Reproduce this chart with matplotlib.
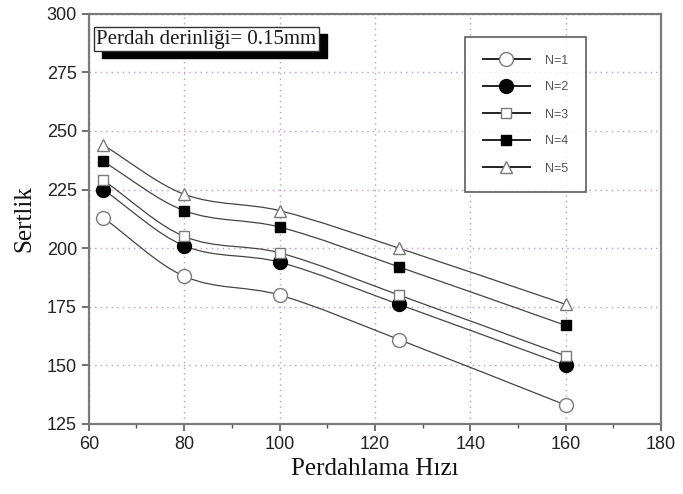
import matplotlib
matplotlib.use("Agg")
import matplotlib.pyplot as plt
import numpy as np
from matplotlib.path import Path
from matplotlib.patches import PathPatch, Rectangle
from matplotlib.lines import Line2D

# Perdahlama hizi (x) ve sertlik degerleri (N = paso sayisi)
hiz = [63, 80, 100, 125, 160]
sertlik_n1 = [213, 188, 180, 161, 133]
sertlik_n2 = [225, 201, 194, 176, 150]
sertlik_n3 = [229, 205, 198, 180, 154]
sertlik_n4 = [237, 216, 209, 192, 167]
sertlik_n5 = [244, 223, 216, 200, 176]
etiketler = ["N=1", "N=2", "N=3", "N=4", "N=5"]
kutu_yazisi = "Perdah derinliği= 0.15mm"

seriler = [sertlik_n1, sertlik_n2, sertlik_n3, sertlik_n4, sertlik_n5]
# marker, face color, edge color, size
stiller = [
    ("o", "white", "#7a7a7a", 10),
    ("o", "black", "black", 10),
    ("s", "white", "#7a7a7a", 7),
    ("s", "black", "black", 7),
    ("^", "white", "#7a7a7a", 8),
]


def spline_path(x, y):
    # Hermite egrisi -> kubik Bezier parcalari
    x = np.asarray(x, float)
    y = np.asarray(y, float)
    n = len(x)
    m = np.zeros(n)
    for i in range(n):
        if i == 0:
            m[i] = (y[1] - y[0]) / (x[1] - x[0])
        elif i == n - 1:
            m[i] = (y[-1] - y[-2]) / (x[-1] - x[-2])
        else:
            m[i] = (y[i + 1] - y[i - 1]) / (x[i + 1] - x[i - 1])
    verts = [(x[0], y[0])]
    codes = [Path.MOVETO]
    for i in range(n - 1):
        dx = x[i + 1] - x[i]
        verts += [(x[i] + dx / 3, y[i] + m[i] * dx / 3),
                  (x[i + 1] - dx / 3, y[i + 1] - m[i + 1] * dx / 3),
                  (x[i + 1], y[i + 1])]
        codes += [Path.CURVE4] * 3
    return Path(verts, codes)


fig = plt.figure(figsize=(6.83, 4.94), dpi=100)
ax = fig.add_axes([0.130, 0.142, 0.838, 0.830])

ax.set_xlim(60, 180)
ax.set_ylim(125, 300)
ax.set_xticks(np.arange(60, 181, 20))
ax.set_xticks(np.arange(70, 180, 20), minor=True)
ax.set_yticks(np.arange(125, 301, 25))

ax.grid(True, which="major", linestyle=(0, (1, 3)), color="#c49ac4", linewidth=1.0)
for s in ax.spines.values():
    s.set_color("#7a7a7a")
    s.set_linewidth(1.6)

ax.tick_params(axis="both", which="major", direction="out", length=5, width=1.2,
               color="#555555", labelsize=13, labelcolor="#222222")
ax.tick_params(axis="x", which="minor", direction="out", length=3, width=1.0, color="#555555")
for lbl in ax.get_xticklabels() + ax.get_yticklabels():
    lbl.set_family("Liberation Sans")

handles = []
for y, (mk, fc, ec, ms), lab in zip(seriler, stiller, etiketler):
    ax.add_patch(PathPatch(spline_path(hiz, y), facecolor="none", edgecolor="#444444",
                           linewidth=0.9, zorder=2))
    ax.plot(hiz, y, linestyle="none", marker=mk, markersize=ms, markerfacecolor=fc,
            markeredgecolor=ec, markeredgewidth=1.0, zorder=3)
    handles.append(Line2D([0], [0], color="#222222", linewidth=1.4, marker=mk,
                          markersize=ms, markerfacecolor=fc, markeredgecolor=ec))

leg = ax.legend(handles, etiketler, loc="upper left", bbox_to_anchor=(465 / 683, 1 - 37 / 494),
                bbox_transform=fig.transFigure, frameon=True, fancybox=False,
                prop={"family": "Liberation Sans", "size": 9}, labelspacing=1.2,
                handlelength=3.8, handletextpad=1.2, borderpad=1.4, borderaxespad=0)
leg.get_frame().set_edgecolor("#333333")
leg.get_frame().set_linewidth(1.2)
for t in leg.get_texts():
    t.set_color("#555555")

kutu = ax.text(0.013, 0.938, kutu_yazisi, transform=ax.transAxes, family="Liberation Serif",
               fontsize=15, color="#1a1a1a", va="center", ha="left", zorder=6,
               bbox=dict(boxstyle="square,pad=0.12", facecolor="white", edgecolor="#333333",
                         linewidth=1.0))

ax.set_xlabel("Perdahlama Hızı", family="Liberation Serif", fontsize=18, color="#111111",
              labelpad=4)
ax.set_ylabel("Sertlik", family="Liberation Serif", fontsize=18, color="#111111",
              labelpad=8)

# kutunun golgesi: cerceveyi olcup sag-alta kaydir
fig.canvas.draw()
bb = kutu.get_bbox_patch().get_window_extent()
ax.add_artist(Rectangle((bb.x0 + 8, bb.y0 - 7), bb.width, bb.height, transform=None,
                        facecolor="black", edgecolor="black", zorder=5))

fig.savefig("out.png", dpi=100, facecolor="white")
